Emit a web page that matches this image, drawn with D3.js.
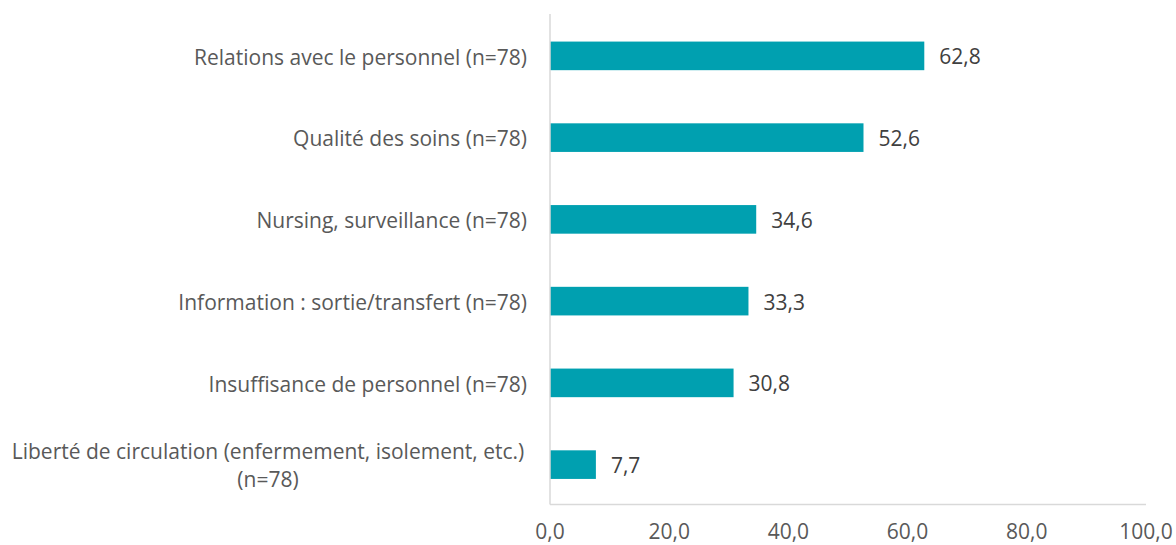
<!DOCTYPE html>
<html>
<head>
<meta charset="utf-8">
<script src="https://cdn.jsdelivr.net/npm/d3@7"></script>
<style>
  body { margin: 0; background: #fff; overflow: hidden; }
  text { font-family: "Open Sans", "Noto Sans", sans-serif; }
</style>
</head>
<body>
<div id="chart"></div>
<script>
var categories = [
  "Relations avec le personnel (n=78)",
  "Qualité des soins (n=78)",
  "Nursing, surveillance (n=78)",
  "Information : sortie/transfert (n=78)",
  "Insuffisance de personnel (n=78)",
  "Liberté de circulation (enfermement, isolement, etc.)\n(n=78)"
];
var values = [62.8, 52.6, 34.6, 33.3, 30.8, 7.7];
var xTicks = [0, 20, 40, 60, 80, 100];

var WIDTH = 1176;
var HEIGHT = 545;
var BAR_COLOR = "#00a0b0";
var AXIS_COLOR = "#d9d9d9";
var TEXT_COLOR = "#595959";
var FONT_SIZE = "21px";

var plotLeft = 550;
var plotRight = 1146;
var plotTop = 14;
var plotBottom = 504.5;

var fmt = function(v) { return d3.format(".1f")(v).replace(".", ","); };

var svg = d3.select("#chart")
  .append("svg")
  .attr("width", WIDTH)
  .attr("height", HEIGHT);

var x = d3.scaleLinear().domain([0, 100]).range([plotLeft, plotRight]);
var y = d3.scaleBand().domain(categories).range([plotTop, plotBottom]).paddingInner(0.65).paddingOuter(0.325);

// bars
svg.selectAll("rect.bar")
  .data(values)
  .enter()
  .append("rect")
  .attr("class", "bar")
  .attr("x", x(0))
  .attr("y", function(d, i) { return y(categories[i]) + 1; })
  .attr("width", function(d) { return x(d) - x(0); })
  .attr("height", y.bandwidth())
  .style("fill", BAR_COLOR);

// value labels
svg.selectAll("text.val")
  .data(values)
  .enter()
  .append("text")
  .attr("class", "val")
  .attr("x", function(d) { return x(d) + 15; })
  .attr("y", function(d, i) { return y(categories[i]) + y.bandwidth() / 2; })
  .attr("dy", "0.45em")
  .style("font-size", FONT_SIZE)
  .style("fill", "#404040")
  .text(function(d) { return fmt(d); });

// axes lines
svg.append("line")
  .attr("x1", plotLeft).attr("y1", plotTop)
  .attr("x2", plotLeft).attr("y2", plotBottom)
  .style("stroke", AXIS_COLOR).style("stroke-width", 1.5);

svg.append("line")
  .attr("x1", plotLeft).attr("y1", plotBottom)
  .attr("x2", plotRight).attr("y2", plotBottom)
  .style("stroke", AXIS_COLOR).style("stroke-width", 1.5);

// x tick labels
svg.selectAll("text.xtick")
  .data(xTicks)
  .enter()
  .append("text")
  .attr("class", "xtick")
  .attr("x", function(d) { return x(d); })
  .attr("y", 539)
  .attr("text-anchor", "middle")
  .style("font-size", FONT_SIZE)
  .style("fill", TEXT_COLOR)
  .text(function(d) { return fmt(d); });

// category labels
categories.forEach(function(c) {
  var lines = c.split("\n");
  var cy = y(c) + y.bandwidth() / 2 + 1;
  if (lines.length == 1) {
    svg.append("text")
      .attr("x", 527)
      .attr("y", cy)
      .attr("dy", "0.42em")
      .attr("text-anchor", "end")
      .style("font-size", FONT_SIZE)
      .style("fill", TEXT_COLOR)
      .text(c);
  } else {
    var lh = 28;
    lines.forEach(function(l, k) {
      svg.append("text")
        .attr("x", 268)
        .attr("y", cy + (k - (lines.length - 1) / 2) * lh)
        .attr("dy", "0.42em")
        .attr("text-anchor", "middle")
        .style("font-size", FONT_SIZE)
        .style("fill", TEXT_COLOR)
        .text(l);
    });
  }
});
</script>
</body>
</html>
